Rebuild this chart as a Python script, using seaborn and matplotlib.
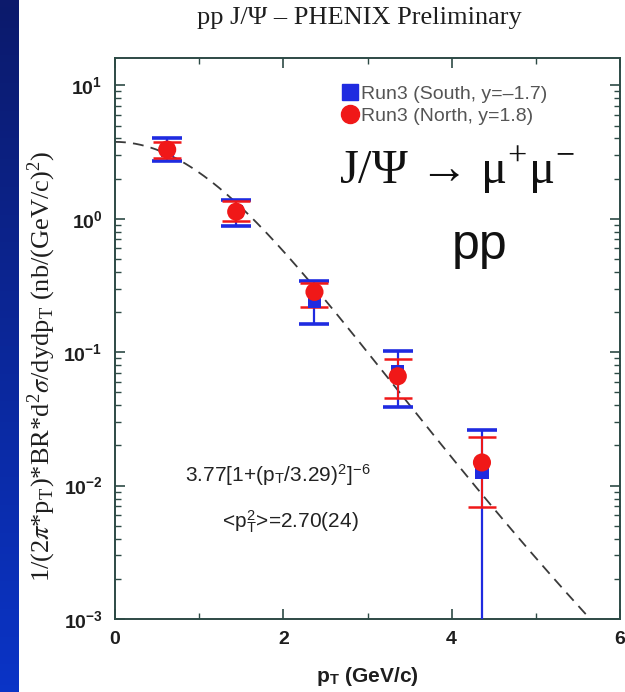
import matplotlib.pyplot as plt
import matplotlib.ticker as mticker
from matplotlib.colors import LinearSegmentedColormap
from matplotlib.lines import Line2D
import numpy as np
import pandas as pd
import seaborn as sns

# J/psi cross section points (pT in GeV/c)
pt_south = [0.62, 1.44, 2.37, 3.36, 4.36]
y_south = [3.25, 1.13, 0.242, 0.072, 0.0125]
hi_south = [4.06, 1.39, 0.342, 0.102, 0.026]
lo_south = [2.73, 0.886, 0.162, 0.0386, 1e-5]

pt_north = [0.62, 1.44, 2.37, 3.36, 4.36]
y_north = [3.30, 1.13, 0.283, 0.066, 0.0149]
hi_north = [3.79, 1.37, 0.33, 0.0886, 0.023]
lo_north = [2.87, 0.966, 0.218, 0.045, 0.00695]

# fit A*[1+(pT/p0)^2]^-n as printed on the chart
fit_a, fit_p0, fit_n = 3.77, 3.29, 6

south = pd.DataFrame({'pt': pt_south, 'y': y_south, 'hi': hi_south, 'lo': lo_south})
north = pd.DataFrame({'pt': pt_north, 'y': y_north, 'hi': hi_north, 'lo': lo_north})
pt_fit = np.linspace(0, 6, 200)
fit = pd.DataFrame({'pt': pt_fit, 'y': fit_a * (1 + (pt_fit / fit_p0) ** 2) ** (-fit_n)})

sns.set_style('white')
plt.rcParams['font.family'] = ['Liberation Sans', 'DejaVu Sans']
plt.rcParams['mathtext.fontset'] = 'stix'

fig = plt.figure(figsize=(6.25, 6.92), dpi=100)
ax = fig.add_axes([0.184, 0.1055, 0.808, 0.8105])

# blue slide border on the left
strip = fig.add_axes([0, 0, 0.029, 1])
cmap = LinearSegmentedColormap.from_list('slide', ['#0c1a6c', '#0a34c6'])
strip.imshow(np.linspace(0, 1, 100).reshape(-1, 1), aspect='auto', cmap=cmap)
strip.axis('off')

sns.lineplot(data=fit, x='pt', y='y', ax=ax, color='#3a3a3a', lw=1.3,
             dashes=False, zorder=2)
ax.lines[-1].set_dashes([6, 4])

ax.errorbar(south['pt'], south['y'],
            yerr=[south['y'] - south['lo'], south['hi'] - south['y']],
            fmt='none', ecolor='#1f2be0', elinewidth=1.6, capsize=11, capthick=2.6, zorder=3)
ax.errorbar(north['pt'], north['y'],
            yerr=[north['y'] - north['lo'], north['hi'] - north['y']],
            fmt='none', ecolor='#f01818', elinewidth=1.4, capsize=10, capthick=1.8, zorder=4)
sns.scatterplot(data=south, x='pt', y='y', ax=ax, marker='s', s=90, color='#1f2be0',
                edgecolor='none', zorder=5)
sns.scatterplot(data=north, x='pt', y='y', ax=ax, marker='o', s=170, color='#f01818',
                edgecolor='none', zorder=6)

ax.set_yscale('log')
ax.set_xlim(0, 6)
ax.set_ylim(1e-3, 16)

spine_col = '#2d4a45'
for s in ax.spines.values():
    s.set_color(spine_col)
    s.set_linewidth(1.4)

ax.xaxis.set_major_locator(mticker.MultipleLocator(2))
ax.xaxis.set_minor_locator(mticker.MultipleLocator(1))
ax.yaxis.set_major_locator(mticker.LogLocator(base=10, numticks=10))
ax.yaxis.set_minor_locator(mticker.LogLocator(base=10, subs=np.arange(2, 10), numticks=20))
ax.yaxis.set_minor_formatter(mticker.NullFormatter())
ax.tick_params(which='both', direction='in', top=True, right=True, left=True, bottom=True,
               colors=spine_col, labelcolor='#1e1e1e', labelsize=14, pad=9)
ax.tick_params(which='major', length=7, width=1.2)
ax.tick_params(which='minor', length=4, width=1.0)
for lab in ax.get_xticklabels() + ax.get_yticklabels():
    lab.set_fontweight('bold')

ax.set_xlabel(r'p$_\mathregular{T}$ (GeV/c)', fontsize=15, fontweight='bold',
              color='#1e1e1e', labelpad=12)
ax.set_ylabel(r'1/(2$\pi$*p$_\mathregular{T}$)*BR*d$^\mathregular{2}\sigma$/dydp$_\mathregular{T}$'
              r' (nb/(GeV/c)$^\mathregular{2}$)',
              fontsize=19, family='Liberation Serif', color='#1e1e1e')
ax.yaxis.set_label_coords(-0.112, 0.45)

fig.text(0.575, 0.974, 'pp J/Ψ – PHENIX Preliminary', ha='center', va='center',
         fontsize=19, family='Liberation Serif', color='#1e1e1e')

# legend
handles = [Line2D([], [], marker='s', ls='none', color='#1f2be0', markersize=11),
           Line2D([], [], marker='o', ls='none', color='#f01818', markersize=13)]
ax.legend(handles, ['Run3 (South, y=–1.7)', 'Run3 (North, y=1.8)'], loc='upper left',
          bbox_to_anchor=(0.435, 0.965), frameon=False, handlelength=0.8,
          handletextpad=0.15, labelspacing=0.22, borderaxespad=0, fontsize=14,
          labelcolor='#555555')

ax.text(0.677, 0.8, r'J/Ψ → μ$^\mathregular{+}$μ$^\mathregular{-}$', transform=ax.transAxes,
        ha='center', va='center', fontsize=35, family='Liberation Serif', color='#111111')
ax.text(0.723, 0.665, 'pp', transform=ax.transAxes, ha='center', va='center',
        fontsize=36, color='#111111')
ax.text(0.323, 0.257, r'3.77[1+(p$_\mathregular{T}$/3.29)$^\mathregular{2}$]$^\mathregular{-6}$',
        transform=ax.transAxes, ha='center', va='center', fontsize=15, color='#222222')
ax.text(0.347, 0.173, r'<p$_\mathregular{T}^\mathregular{2}$>=2.70(24)',
        transform=ax.transAxes, ha='center', va='center', fontsize=15, color='#222222')

fig.savefig('out.png', dpi=100)
